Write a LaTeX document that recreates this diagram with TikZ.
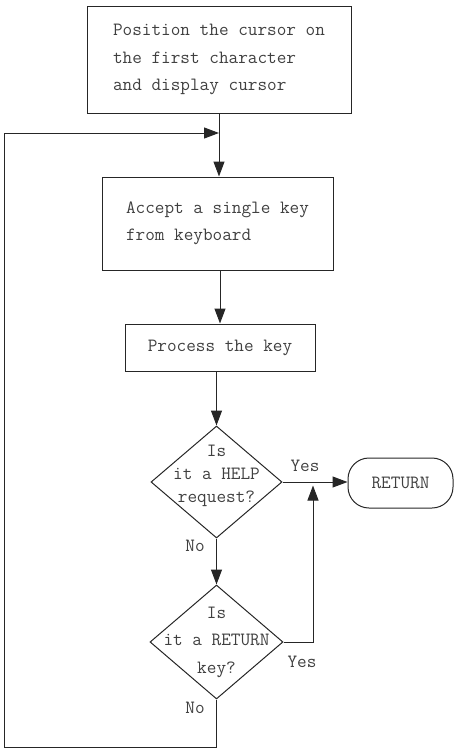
\documentclass[tikz,border=0pt]{standalone}
\usepackage{fontspec}
\usetikzlibrary{shapes.geometric,arrows.meta}

\begin{document}
\begin{tikzpicture}[x=1pt,y=-1pt,
    every node/.style={font=\ttfamily\fontsize{18.7}{27.5}\selectfont, text=black!75},
    stepbox/.style={draw=black!85, line width=1pt, rectangle, align=left, inner sep=0pt},
    decision/.style={draw=black!85, line width=1pt, diamond, inner sep=0pt},
    terminal/.style={draw=black!85, line width=1pt, rectangle, rounded corners=21pt, inner sep=0pt},
    flow/.style={draw=black!85, line width=1pt, -{Triangle[length=15pt,width=11pt]}}]
  \useasboundingbox (0,0) rectangle (454,750);

  % boxes
  \node[stepbox, minimum width=264pt, minimum height=107pt] (pos) at (219,59.5)
    {Position the cursor on\\the first character\\and display cursor};
  \node[stepbox, minimum width=231pt, minimum height=93pt] (accept) at (217.5,223.5)
    {Accept a single key\\from keyboard};
  \node[stepbox, minimum width=190pt, minimum height=47pt] (process) at (220,347.5)
    {Process the key};

  % decisions
  \node[decision, minimum width=131pt, minimum height=112pt,
    label={[align=center, yshift=6pt]center:Is\\[-4.5pt]it a HELP\\[-4.5pt]request?}] (help) at (216.5,482) {};
  \node[decision, minimum width=133pt, minimum height=114pt,
    label={[align=center]center:Is\\it a RETURN\\key?}] (retkey) at (216.5,642) {};
  \node[terminal, minimum width=105pt, minimum height=50pt] (ret) at (400.5,483) {RETURN};

  % labels
  \node (yes1) at (305,466) {Yes};
  \node (no1) at (195,546) {No};
  \node (yes2) at (302,662) {Yes};
  \node (no2) at (195,708) {No};

  \coordinate (join) at (219,133);
  \coordinate (merge) at (313,485.5);

  % connectors
  \draw[flow] (pos.south) -- (pos.south |- accept.north);
  \draw[flow] (accept.south -| process.north) -- (process.north);
  \draw[flow] (process.south -| help.north) -- (help.north);
  \draw[flow] (help.south) -- (retkey.north);
  \draw[flow] (help.east) -- (help.east -| ret.west);
  \draw[flow] (retkey.east) -| (merge);
  \draw[flow] (retkey.south) |- (4.5,747) |- (join);
\end{tikzpicture}
\end{document}
